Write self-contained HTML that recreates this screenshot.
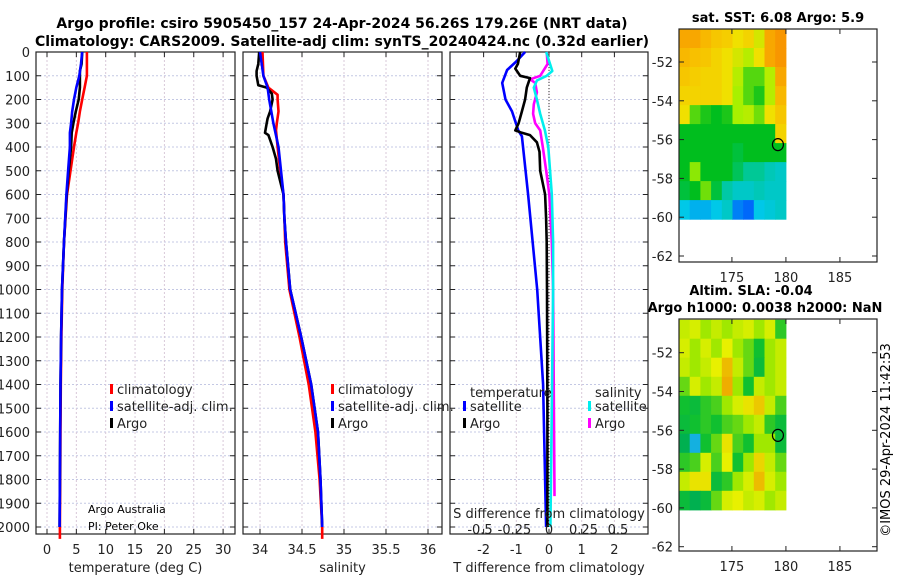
<!DOCTYPE html>
<html><head><meta charset="utf-8"><style>
body{margin:0;background:#fff;}
svg{display:block;font-family:"DejaVu Sans","Liberation Sans",sans-serif;}
</style></head><body>
<svg id="fig" width="900" height="580" viewBox="0 0 900 580">
<text x="342" y="28" font-size="14" font-weight="bold" text-anchor="middle">Argo profile: csiro 5905450_157 24-Apr-2024 56.26S 179.26E (NRT data)</text>
<text x="342" y="46" font-size="14" font-weight="bold" text-anchor="middle">Climatology: CARS2009. Satellite-adj clim: synTS_20240424.nc (0.32d earlier)</text>
<text x="778" y="22" font-size="13" font-weight="bold" text-anchor="middle">sat. SST: 6.08 Argo: 5.9</text>
<text x="751" y="295" font-size="13" font-weight="bold" text-anchor="middle">Altim. SLA: -0.04</text>
<text x="765" y="312" font-size="13" font-weight="bold" text-anchor="middle">Argo h1000: 0.0038 h2000: NaN</text>
<text transform="translate(890,440) rotate(-90)" font-size="13" text-anchor="middle">©IMOS 29-Apr-2024 11:42:53</text>
</svg>
<script>
// ---- data ----
const tDepth=[0,50,100,150,200,250,300,340,400,500,600,800,1000,1200,1400,1600,1800,2000];
const tClim=[6.8,6.8,6.8,6.4,6.0,5.6,5.3,5.0,4.6,4.0,3.4,2.9,2.6,2.45,2.35,2.3,2.25,2.2];
const tSat=[6.0,5.8,5.5,5.0,4.6,4.3,4.1,3.9,3.9,3.6,3.3,2.9,2.55,2.4,2.3,2.25,2.2,2.15];
const tArgoDepth=[0,50,80,100,150,200,250,300,340,400,500,600,800,1000,1200,1400,1600,1800,2000];
const tArgo=[6.0,5.9,5.6,5.6,5.6,5.4,4.9,4.5,4.2,4.1,3.7,3.35,2.9,2.55,2.4,2.3,2.25,2.2,2.15];
const sClimDepth=[0,100,150,180,200,250,300,330,400,500,600,700,800,1000,1200,1400,1600,1800,2000,2050];
const sClim=[34.03,34.04,34.10,34.21,34.21,34.22,34.20,34.19,34.21,34.24,34.28,34.29,34.30,34.35,34.47,34.58,34.66,34.71,34.74,34.74];
const sSatDepth=[0,100,150,200,300,400,500,600,700,800,1000,1200,1400,1600,1800,2000];
const sSat=[34.0,34.04,34.09,34.11,34.16,34.22,34.25,34.28,34.29,34.31,34.36,34.49,34.61,34.69,34.72,34.74];
const sArgoDepth=[0,50,80,100,140,150,175,200,250,280,300,340,350,400,450,500,600,700,800,1000,1200,1400,1600,1800,2000];
const sArgo=[33.99,33.98,33.96,33.96,33.98,34.08,34.14,34.15,34.12,34.09,34.08,34.06,34.10,34.15,34.19,34.21,34.28,34.29,34.31,34.36,34.49,34.61,34.69,34.72,34.74];
const dtSatDepth=[0,40,76,130,200,250,330,355,600,1000,1400,2000];
const dtSat=[-0.73,-1.0,-1.28,-1.43,-1.33,-1.13,-0.94,-0.83,-0.64,-0.36,-0.18,-0.09];
const dtArgoDepth=[0,50,70,100,110,150,200,250,300,330,340,350,380,420,500,600,700,800,1000,1500,2000];
const dtArgo=[-0.88,-0.95,-1.03,-0.88,-0.58,-0.68,-0.73,-0.83,-0.93,-1.03,-0.83,-0.58,-0.37,-0.29,-0.27,-0.12,-0.09,-0.07,-0.06,-0.05,-0.05];
const dsSatDepth=[0,80,100,120,150,200,260,330,400,600,800,1000,1500,2000];
const dsSat=[-0.02,0.024,-0.017,-0.088,-0.11,-0.088,-0.064,-0.03,-0.005,0.02,0.03,0.03,0.02,0.01];
const dsArgoDepth=[0,50,100,115,130,170,220,260,300,330,400,500,600,800,1000,1870];
const dsArgo=[-0.017,-0.01,-0.064,-0.136,-0.1,-0.088,-0.11,-0.115,-0.1,-0.064,-0.045,-0.02,0.002,0.02,0.03,0.04];
const depthTicks=[0,100,200,300,400,500,600,700,800,900,1000,1100,1200,1300,1400,1500,1600,1700,1800,1900,2000];
const tTicks=[0,5,10,15,20,25,30];
const sTicks=[34,34.5,35,35.5,36];
const sTickLabels=["34","34.5","35","35.5","36"];
const dtTicks=[-2,-1,0,1,2];
const dsTicks=[-0.5,-0.25,0,0.25,0.5];
const dsTickLabels=["-0.5","-0.25","0","0.25","0.5"];
const mapLatTicks=[-52,-54,-56,-58,-60,-62];
const mapLonTicks=[175,180,185];
const sstGrid=[
[7.8,7.8,7.6,7.4,7.3,7.0,7.2,6.8,7.8,8.0],
[7.6,7.5,7.4,7.2,7.0,6.8,6.6,7.0,7.8,8.0],
[7.4,7.3,7.2,7.2,7.0,6.6,6.2,6.2,6.6,7.8],
[7.2,7.2,7.2,7.2,7.0,6.5,6.2,6.0,6.6,7.6],
[7.0,6.2,6.0,5.9,6.0,6.5,6.6,6.3,7.0,7.4],
[5.9,5.9,5.9,5.9,5.9,5.9,5.9,5.9,5.9,7.2],
[5.9,5.9,5.9,5.9,5.9,5.8,5.9,5.9,5.9,5.9],
[5.9,6.4,5.9,5.9,5.9,5.7,5.5,5.5,5.3,5.2],
[5.8,5.9,6.3,5.8,5.4,5.2,5.2,5.3,5.2,5.2],
[5.0,4.9,4.9,5.0,5.2,4.7,4.6,5.0,5.1,5.2]];
const slaGrid=[
[0.02,0.03,0.0,0.02,0.0,0.02,0.03,0.0,0.03,-0.04],
[0.03,0.0,0.03,0.0,0.04,0.0,-0.02,-0.05,0.0,0.02],
[0.02,0.0,0.02,0.04,0.08,0.02,-0.02,-0.06,0.0,0.02],
[-0.02,0.03,0.0,0.02,0.09,0.0,-0.05,0.02,0.0,0.02],
[-0.05,-0.06,-0.04,-0.03,0.0,0.03,0.05,0.07,0.02,-0.03],
[-0.06,-0.05,-0.04,-0.05,-0.03,-0.02,0.0,0.02,-0.04,-0.06],
[-0.08,-0.15,-0.05,-0.02,0.05,-0.03,-0.05,0.0,0.0,-0.06],
[-0.04,-0.03,0.03,-0.03,0.04,-0.05,0.0,0.06,0.02,-0.02],
[0.02,0.05,0.05,-0.06,-0.04,0.0,0.03,0.08,0.03,0.0],
[-0.06,-0.08,-0.06,-0.02,0.03,0.04,0.02,0.03,0.0,0.02]];
const argoPos=[179.26,-56.26];

// ---- drawing ----
const svg=document.getElementById('fig');
const NS='http://www.w3.org/2000/svg';
function mk(tag,attrs,parent){const e=document.createElementNS(NS,tag);for(const k in attrs)e.setAttribute(k,attrs[k]);(parent||svg).appendChild(e);return e;}
const yD=d=>52+d*0.2375;
const TOP=52,BOT=534;
const xT=v=>47+v*5.87;
const xS=v=>260+(v-34)*84;
const xDT=v=>549+v*32.7;
const xDS=v=>549+v*138;

function panel(name,x0,x1,vt,vfn,labs,xlabel,showY){
  const g=mk('g',{});
  
  
  depthTicks.forEach(d=>{const l=mk('line',{x1:x0,x2:x1,y1:yD(d),y2:yD(d),stroke:'#c4c8e4','stroke-width':1,'stroke-dasharray':'2,2'},g);
    
    mk('line',{x1:x0,x2:x0+5,y1:yD(d),y2:yD(d),stroke:'#222'},g);mk('line',{x1:x1-5,x2:x1,y1:yD(d),y2:yD(d),stroke:'#222'},g);
    if(showY){const t=mk('text',{x:30,y:yD(d)+5,'font-size':13,'text-anchor':'end',fill:'#222'},g);t.textContent=d;
      }
  });
  vt.forEach((v,i)=>{const x=vfn(v);
    mk('line',{x1:x,x2:x,y1:TOP,y2:BOT,stroke:'#d8c8d8','stroke-width':1,'stroke-dasharray':'2,2'},g);
    mk('line',{x1:x,x2:x,y1:BOT-5,y2:BOT,stroke:'#222'},g);mk('line',{x1:x,x2:x,y1:TOP,y2:TOP+5,stroke:'#222'},g);
    const t=mk('text',{x:x,y:554,'font-size':13,'text-anchor':'middle',fill:'#222'},g);t.textContent=labs[i];
    });
  const r=mk('rect',{x:x0,y:TOP,width:x1-x0,height:BOT-TOP,fill:'none',stroke:'#222','stroke-width':1.2},g);
  
  const xl=mk('text',{x:(x0+x1)/2,y:572,'font-size':13,'text-anchor':'middle',fill:'#222'},g);xl.textContent=xlabel;
  
  return g;
}
function line(name,depths,vals,fx,color,g){
  const pts=depths.map((d,i)=>fx(vals[i]).toFixed(1)+','+yD(d).toFixed(1)).join(' ');
  const p=mk('polyline',{points:pts,fill:'none',stroke:color,'stroke-width':2.6,'stroke-linejoin':'round'},g);
  
}
function legend(g,x,y,color,label,name){
  const m=mk('rect',{x:x,y:y-8,width:3,height:10,fill:color},g);
  
  const t=mk('text',{x:x+7,y:y+2,'font-size':13,fill:'#222'},g);t.textContent=label;
  
}
// panel 1
const g1=panel('temperature-panel',36,235,tTicks,xT,tTicks.map(String),'temperature (deg C)',true);
line('temperature-climatology-line',tDepth.concat([2050]),tClim.concat([2.2]),xT,'#f00',g1);
line('temperature-argo-line',tArgoDepth,tArgo,xT,'#000',g1);
line('temperature-satellite-line',tDepth,tSat,xT,'#00f',g1);
legend(g1,110,392,'#f00','climatology','legend-climatology');
legend(g1,110,409,'#00f','satellite-adj. clim.','legend-satellite');
legend(g1,110,426,'#000','Argo','legend-argo');
let t=mk('text',{x:88,y:513,'font-size':11,fill:'#000'},g1);t.textContent='Argo Australia';

t=mk('text',{x:88,y:530,'font-size':11,fill:'#000'},g1);t.textContent='PI: Peter Oke';

// panel 2
const g2=panel('salinity-panel',243,442,sTicks,xS,sTickLabels,'salinity',false);
line('salinity-climatology-line',sClimDepth,sClim,xS,'#f00',g2);
line('salinity-argo-line',sArgoDepth,sArgo,xS,'#000',g2);
line('salinity-satellite-line',sSatDepth,sSat,xS,'#00f',g2);
legend(g2,331,392,'#f00','climatology','legend2-climatology');
legend(g2,331,409,'#00f','satellite-adj. clim.','legend2-satellite');
legend(g2,331,426,'#000','Argo','legend2-argo');
// panel 3
const g3=panel('difference-panel',450,648,dtTicks,xDT,dtTicks.map(String),'T difference from climatology',false);
const z=mk('line',{x1:549,x2:549,y1:TOP,y2:BOT,stroke:'#333','stroke-dasharray':'1,2'},g3);

line('salinity-diff-argo-line',dsArgoDepth,dsArgo,xDS,'#f0f',g3);
line('salinity-diff-satellite-line',dsSatDepth,dsSat,xDS,'#0ee',g3);
line('temperature-diff-satellite-line',dtSatDepth,dtSat,xDT,'#00f',g3);
line('temperature-diff-argo-line',dtArgoDepth,dtArgo,xDT,'#000',g3);
t=mk('text',{x:470,y:397,'font-size':13,fill:'#222'},g3);t.textContent='temperature';

t=mk('text',{x:595,y:397,'font-size':13,fill:'#222'},g3);t.textContent='salinity';

legend(g3,463,409,'#00f','satellite','legend3-t-satellite');
legend(g3,463,426,'#000','Argo','legend3-t-argo');
legend(g3,588,409,'#0ee','satellite','legend3-s-satellite');
legend(g3,588,426,'#f0f','Argo','legend3-s-argo');
t=mk('text',{x:549,y:518,'font-size':13,'text-anchor':'middle',fill:'#222'},g3);t.textContent='S difference from climatology';

dsTicks.forEach((v,i)=>{const tt=mk('text',{x:xDS(v),y:534,'font-size':13,'text-anchor':'middle',fill:'#222'},g3);tt.textContent=dsTickLabels[i];
  });

// maps
function lerpColor(stops,v){
  if(v<=stops[0][0])return stops[0][1];
  for(let i=1;i<stops.length;i++){if(v<=stops[i][0]){const a=stops[i-1],b=stops[i];const f=(v-a[0])/(b[0]-a[0]);
    const c=a[1].map((x,k)=>Math.round(x+(b[1][k]-x)*f));return c;}}
  return stops[stops.length-1][1];
}
const sstStops=[[4.5,[0,80,255]],[5.0,[0,200,232]],[5.5,[0,200,150]],[5.9,[0,190,30]],[6.5,[168,240,0]],[7.0,[240,224,0]],[7.5,[248,192,0]],[8.0,[248,150,0]]];
const slaStops=[[-0.15,[20,176,224]],[-0.08,[0,176,80]],[-0.05,[16,192,48]],[0,[160,232,0]],[0.04,[232,240,0]],[0.1,[240,160,0]]];
function map(name,top,bottom,grid,stops,y52){
  const g=mk('g',{});
  
  const lonX=l=>679+(l-170.1)*10.8;
  const latY=l=>y52+(-52-l)*19.4;
  const lat0=-50.3;
  grid.forEach((row,r)=>row.forEach((v,c)=>{
    const x=lonX(170.1+c*0.99),y=latY(lat0-r*0.98);
    const col=lerpColor(stops,v);
    const cell=mk('rect',{x:x.toFixed(1),y:Math.max(top,y).toFixed(1),width:11.2,height:(y<top?19.6-(top-y):19.6).toFixed(1),fill:'rgb('+col.join(',')+')'},g);
    
  }));
  mapLatTicks.forEach(l=>{const y=latY(l);mk('line',{x1:679,x2:684,y1:y,y2:y,stroke:'#222'},g);mk('line',{x1:872,x2:877,y1:y,y2:y,stroke:'#222'},g);
    const tt=mk('text',{x:673,y:y+5,'font-size':13,'text-anchor':'end',fill:'#222'},g);tt.textContent=l;
    });
  mapLonTicks.forEach(l=>{const x=lonX(l);mk('line',{x1:x,x2:x,y1:bottom-5,y2:bottom,stroke:'#222'},g);mk('line',{x1:x,x2:x,y1:top,y2:top+5,stroke:'#222'},g);
    const tt=mk('text',{x:x,y:bottom+20,'font-size':13,'text-anchor':'middle',fill:'#222'},g);tt.textContent=l;
    });
  const fr=mk('rect',{x:679,y:top,width:198,height:bottom-top,fill:'none',stroke:'#222','stroke-width':1.2},g);
  
  const c=mk('ellipse',{cx:lonX(argoPos[0]),cy:latY(argoPos[1]),rx:5.5,ry:6,fill:'none',stroke:'#000','stroke-width':1.2},g);
  
}
map('sst-map',29,262,sstGrid,sstStops,62);
map('sla-map',319,551,slaGrid,slaStops,352.7);
</script>
</body></html>
